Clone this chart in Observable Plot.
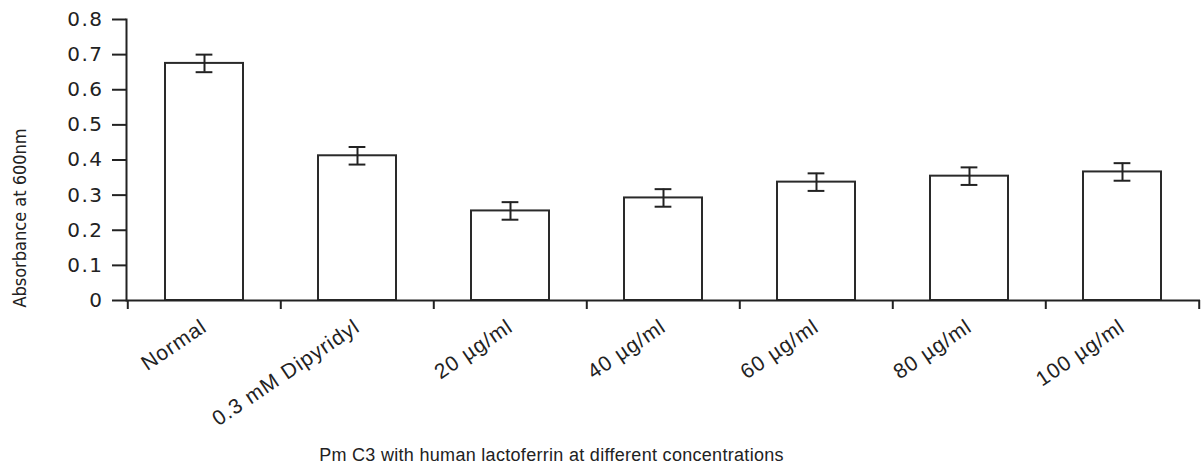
<!DOCTYPE html>
<html>
<head>
<meta charset="utf-8">
<script src="https://cdn.jsdelivr.net/npm/d3@7"></script>
<script src="https://cdn.jsdelivr.net/npm/@observablehq/plot@0.6"></script>
<style>
  html, body { margin: 0; padding: 0; background: #fff; }
  #chart svg { display: block; }
  #chart g[aria-label="y-axis tick label"] text { letter-spacing: 1.5px; }
  #chart g[aria-label="x-axis tick label"] text { letter-spacing: 1px; }
  #chart g.xtitle text { letter-spacing: 0.3px; }
</style>
</head>
<body>
<div id="chart"></div>
<script>
// ---- data ----
const categories = ["Normal", "0.3 mM Dipyridyl", "20 µg/ml", "40 µg/ml", "60 µg/ml", "80 µg/ml", "100 µg/ml"];
const means = [0.675, 0.412, 0.255, 0.292, 0.337, 0.354, 0.366];
const errors = [0.025, 0.025, 0.025, 0.025, 0.025, 0.025, 0.025];
const yTicks = [0, 0.1, 0.2, 0.3, 0.4, 0.5, 0.6, 0.7, 0.8];
const yLabel = "Absorbance at 600nm";
const xTitle = "Pm C3 with human lactoferrin at different concentrations";

const data = categories.map((c, i) => ({cat: c, mean: means[i], lo: means[i] - errors[i], hi: means[i] + errors[i]}));

// ---- layout ----
const width = 1204, height = 466;
const marginLeft = 126, marginRight = 4, marginTop = 19, marginBottom = 166;
const pInner = 0.49, pOuter = pInner / 2;
const step = (width - marginLeft - marginRight) / categories.length;
const bandwidth = step * (1 - pInner);
const capInset = (bandwidth - 17) / 2;
const ink = "#222";

const chart = Plot.plot({
  width, height, marginLeft, marginRight, marginTop, marginBottom,
  style: {fontFamily: "'Liberation Sans', Arial, sans-serif", background: "#fff", color: ink},
  x: {domain: categories, paddingInner: pInner, paddingOuter: pOuter, align: 0.5},
  y: {domain: [0, 0.8]},
  marks: [
    Plot.barY(data, {x: "cat", y: "mean", fill: "#fff", stroke: "#2a2a2a", strokeWidth: 2}),
    Plot.ruleX(data, {x: "cat", y1: "lo", y2: "hi", stroke: ink, strokeWidth: 2}),
    Plot.tickY(data, {x: "cat", y: "hi", stroke: ink, strokeWidth: 2, insetLeft: capInset, insetRight: capInset}),
    Plot.tickY(data, {x: "cat", y: "lo", stroke: ink, strokeWidth: 2, insetLeft: capInset, insetRight: capInset}),
    // axis lines
    Plot.ruleY([0], {stroke: ink, strokeWidth: 2}),
    Plot.frame({anchor: "left", stroke: ink, strokeWidth: 2}),
    // x boundary ticks
    Plot.ruleX(categories, {x: d => d, y1: 0, y2: 0, insetBottom: -9, dx: -step / 2, stroke: ink, strokeWidth: 2}),
    Plot.ruleX(categories.slice(-1), {x: d => d, y1: 0, y2: 0, insetBottom: -9, dx: step / 2, stroke: ink, strokeWidth: 2}),
    Plot.axisY({ticks: yTicks, tickSize: 14, tickPadding: 9, tickFormat: d => d === 0 ? "0" : d.toFixed(1),
      fontSize: 20, fontFamily: "'DejaVu Sans', sans-serif", stroke: ink, strokeWidth: 2, fill: ink, label: null}),
    Plot.axisX({tickSize: 0, tickPadding: 24, tickRotate: -34, fontSize: 21, fill: ink, label: null}),
    Plot.text([yLabel], {frameAnchor: "left", textAnchor: "middle", lineAnchor: "middle", rotate: -90, dx: -106, dy: 58, fontSize: 18,
      fontFamily: "'Liberation Sans Narrow', 'DejaVu Sans Condensed', 'Liberation Sans', sans-serif", fill: ink}),
    Plot.text([xTitle], {frameAnchor: "bottom", lineAnchor: "middle", dx: -112, dy: 155, fontSize: 18, fill: ink, className: "xtitle"})
  ]
});
document.getElementById("chart").appendChild(chart);
</script>
</body>
</html>
